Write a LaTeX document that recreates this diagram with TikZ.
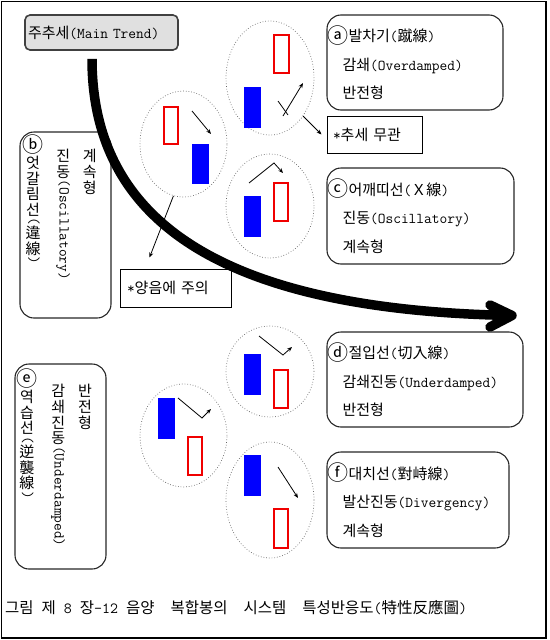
\documentclass[tikz,border=0pt]{standalone}
\usepackage{fontspec}
\usepackage{graphicx}
\setmainfont{Noto Sans CJK KR}
\usetikzlibrary{shapes.geometric,arrows.meta}
\definecolor{cred}{RGB}{240,0,0}
\definecolor{cblue}{RGB}{0,0,255}
\newcommand\lt[1]{{\ttfamily #1}}
\newcommand\khs{{\ttfamily\ }}
\newcommand\cir[1]{\raisebox{-0.1em}{\scalebox{1.4}{#1}}}
\newcommand\vch[1]{\raisebox{-0.25em}{\rotatebox{90}{\makebox[1em]{\rule[-0.15em]{0pt}{1.05em}#1}}}}
\begin{document}
\begin{tikzpicture}[x=1pt,y=-1pt,
  every node/.style={font=\fontsize{15}{28.5}\selectfont},
  cbox/.style={draw=black!85, line width=1.1pt, rounded corners=14pt},
  tbox/.style={cbox, align=left, inner xsep=0.5pt, inner ysep=0pt},
  note/.style={draw=black, line width=1pt, align=left, inner ysep=0pt},
  oval/.style={ellipse, draw=black!60, dotted, line width=0.7pt, inner sep=0pt},
  yang/.style={draw=cred, line width=2pt},
  yin/.style={fill=cblue, draw=cblue, line width=0.5pt},
  tiny/.style={line width=0.8pt, -{Stealth[length=5pt,width=4pt]}},
  trend/.style={line width=9.5pt},
  vcol/.style={rotate=-90, anchor=base west, inner sep=0pt}
]
\useasboundingbox (0,0) rectangle (549,640);
\draw[line width=1.5pt] (1.5,1.5) rectangle (546,638);

% main trend box
\node[draw=black!75, fill=black!12, line width=1.6pt, rounded corners=5pt,
      minimum width=153pt, minimum height=35pt, text width=147pt,
      inner xsep=3pt, align=left] (mt) at (101.5,32.5) {주추세\lt{(Main Trend)}};

% right boxes
\node[tbox, minimum width=176pt, minimum height=95pt, text width=175pt] (ba) at (415,62.5)
  {\cir{ⓐ}발차기\lt{(}蹴線\lt{)}\\ \hspace*{15pt}감쇄\lt{(Overdamped)}\\ \hspace*{15pt}반전형};
\node[tbox, minimum width=187pt, minimum height=96pt, text width=186pt] (bc) at (420.5,216)
  {\cir{ⓒ}어깨띠선\lt{(}Ｘ線\lt{)}\\ \hspace*{15pt}진동\lt{(Oscillatory)}\\ \hspace*{15pt}계속형};
\node[tbox, minimum width=196pt, minimum height=95pt, text width=195pt] (bd) at (425,379.5)
  {\cir{ⓓ}절입선\lt{(}切入線\lt{)}\\ \hspace*{15pt}감쇄진동\lt{(Underdamped)}\\ \hspace*{15pt}반전형};
\node[tbox, minimum width=182pt, minimum height=96pt, text width=181pt] (bf) at (418,500)
  {\cir{ⓕ}대치선\lt{(}對峙線\lt{)}\\ \hspace*{15pt}발산진동\lt{(Divergency)}\\ \hspace*{15pt}계속형};

% left vertical boxes
\node[cbox, minimum width=91pt, minimum height=186pt] (bb) at (65.5,225) {};
\node[vcol] (bb1) at (29.25,135) {\vch{\cir{ⓑ}}\vch{엇}\vch{갈}\vch{림}\vch{선}\lt{(}\vch{違}\vch{線}\lt{)}};
\node[vcol] (bb2) at (59.5,148) {\vch{진}\vch{동}\lt{(Oscillatory)}};
\node[vcol] (bb3) at (86,148) {\vch{계}\vch{속}\vch{형}};

\node[cbox, minimum width=91pt, minimum height=205pt] (be) at (60.5,466.5) {};
\node[vcol] (be1) at (23.25,369) {\vch{\cir{ⓔ}}\vch{역}\vch{습}\vch{선}\lt{(}\vch{逆}\vch{襲}\vch{線}\lt{)}};
\node[vcol] (be2) at (54.5,383) {\vch{감}\vch{쇄}\vch{진}\vch{동}\lt{(Underdamped)}};
\node[vcol] (be3) at (81.25,383) {\vch{반}\vch{전}\vch{형}};

% notes
\node[note, minimum width=95pt, minimum height=37pt, text width=83pt, inner xsep=6pt] (n1) at (374.5,134.5) {\lt{*}추세\khs{}무관};
\node[note, minimum width=111pt, minimum height=38pt, text width=97pt, inner xsep=7pt] (n2) at (175.5,288) {\lt{*}양음에\khs{}주의};

% caption
\node[anchor=west, inner sep=0pt, font=\fontsize{15.5}{18}\selectfont] (cap) at (5,608)
  {그림\khs{}제\lt{~8~}장\lt{-12}\khs{}음양\khs{}\khs{}복합봉의\khs{}\khs{}시스템\khs{}\khs{}특성반응도\lt{(}特性反應圖\lt{)}};

% ovals
\node[oval, minimum width=88pt, minimum height=114pt] (c1) at (270,78) {};
\node[oval, minimum width=87pt, minimum height=106pt] (c2) at (183.5,144) {};
\node[oval, minimum width=88pt, minimum height=104pt] (c3) at (270,206) {};
\node[oval, minimum width=88pt, minimum height=91pt] (c4) at (270,371.5) {};
\node[oval, minimum width=87pt, minimum height=103pt] (c5) at (183.5,435.5) {};
\node[oval, minimum width=88pt, minimum height=116pt] (c6) at (270,500) {};

% candles
\draw[yang] (273.5,34.5) rectangle (288.5,72.5);  \fill[yin] (244,87) rectangle (260,127);
\draw[yang] (163.5,106.5) rectangle (177.5,143.5); \fill[yin] (192,144) rectangle (208,183);
\fill[yin] (244,196) rectangle (260,236);          \draw[yang] (273.5,182.5) rectangle (287.5,220.5);
\fill[yin] (244,354) rectangle (260,394);          \draw[yang] (273.5,369.5) rectangle (287.5,407.5);
\fill[yin] (158,398) rectangle (174,438);          \draw[yang] (187.5,436.5) rectangle (201.5,474.5);
\fill[yin] (244,455) rectangle (260,495);          \draw[yang] (273.5,508.5) rectangle (287.5,547.5);

% small price arrows
\draw[line width=0.8pt] (278,101) -- (288,115);
\draw[tiny] (283,116) -- (303,83);
\draw[tiny] (192,111) -- (211,134);
\draw[tiny] (249,183) -- (274,163) -- (283,173);
\draw[tiny] (259,336) -- (283,355) -- (292,347);
\draw[tiny] (178,398) -- (202,418) -- (211,409);
\draw[tiny] (278,467) -- (298,498);

% main trend arrow
\coordinate (ts) at ([xshift=-9.5pt,yshift=-8pt]mt.south);
\coordinate (te) at (512,315.5);
\draw[trend] (ts) .. controls (92,220) and (220,310) .. (te);
\draw[trend, line cap=round, line join=round] (490,305) -- (te) -- (490,327);

% connectors to notes
\draw[tiny] (c1.-49) -- ([xshift=-5pt]n1.west);
\coordinate (n2tip) at ([xshift=30pt,yshift=11pt]n2.north west);
\draw[tiny] (c2.-101) -- (n2tip);
\end{tikzpicture}
\end{document}
